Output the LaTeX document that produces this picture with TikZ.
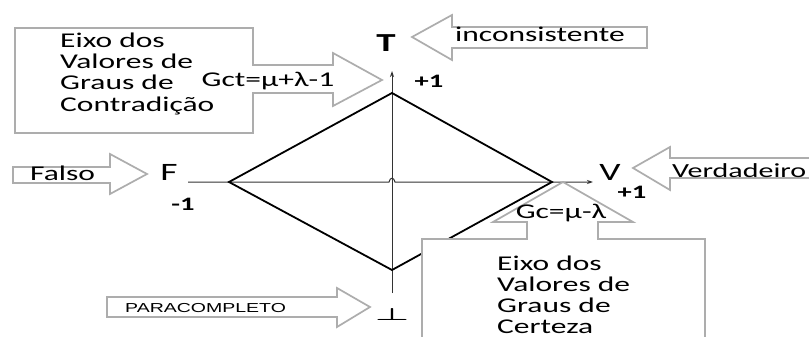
\documentclass[tikz,border=0pt]{standalone}
\usepackage{fontspec}
\setmainfont{Carlito}[FakeStretch=1.5]
\newfontfamily\arialx{Liberation Sans}[FakeStretch=1.5]
\usetikzlibrary{arrows.meta}
\definecolor{outl}{gray}{0.68}
\tikzset{
  callout/.style={draw=outl, line width=1.7pt, fill=white, line join=miter},
  txt/.style={inner sep=0pt, font=\fontsize{21}{21}\selectfont},
  pole/.style={inner sep=0pt, font=\fontsize{25}{25}\selectfont},
  num/.style={inner sep=0pt, font=\fontsize{19}{19}\selectfont\bfseries},
  dia/.style={line width=1.8pt, black, line join=miter},
  axis/.style={line width=1pt, black!80, -{Stealth[length=6pt,width=4pt]}},
}
\begin{document}
\begin{tikzpicture}[x=1pt,y=-1pt]
\useasboundingbox (0,0) rectangle (809,337);
\clip (0,0) rectangle (809,337);
\fill[white] (0,0) rectangle (809,337);

% diamond vertices and axis ends
\coordinate (top) at (392,93);
\coordinate (right) at (552,182);
\coordinate (bot) at (392,270);
\coordinate (left) at (229,182);
\coordinate (vaxS) at (392,293);
\coordinate (vaxE) at (392,71);
\coordinate (haxS) at (188,182);
\coordinate (haxE) at (593,182);
\coordinate (hopA) at (389,182);
\coordinate (hopB) at (395,182);

% axes
\draw[axis] (vaxS) -- (vaxE);
\draw[axis] (haxS) -- (hopA) .. controls (390,177) and (394,177) .. (hopB) -- (haxE);

% diamond
\draw[dia] (top) -- (right) -- (bot) -- (left) -- cycle;

% top-left callout (contradiction axis)
\draw[callout] (15,28) -- (253,28) -- (253,65) -- (333,65) -- (333,53) -- (382,80)
  -- (333,106) -- (333,93) -- (253,93) -- (253,133) -- (15,133) -- cycle;
\foreach \t [count=\i] in {Eixo dos, Valores de, Graus de, Contradição}
  \node[txt, anchor=base west] (tl\i) at (60,{48+21*(\i-1)}) {\t};
\node[txt, anchor=base] (gct) at (268,87) {Gct=μ+λ-1};

% inconsistente callout
\draw[callout] (412,37) -- (452,15) -- (452,27) -- (647,27) -- (647,48) -- (452,48) -- (452,60) -- cycle;
\node[txt, anchor=base west] (inc) at (455,42) {inconsistente};

% Falso callout
\draw[callout] (13,167) -- (110,167) -- (110,154) -- (147,174) -- (110,194) -- (110,183) -- (13,183) -- cycle;
\node[txt, anchor=base west] (fal) at (30,180) {Falso};

% Verdadeiro callout
\draw[callout] (633,168) -- (670,147) -- (670,158) -- (830,158) -- (830,178) -- (670,178) -- (670,190) -- cycle;
\node[inner sep=0pt, anchor=base west, font=\fontsize{20}{20}\selectfont] (ver) at (672,177) {Verdadeiro};

% PARACOMPLETO callout
\draw[callout] (107,297) -- (337,297) -- (337,288) -- (370,307) -- (337,327) -- (337,317) -- (107,317) -- cycle;
\node[inner sep=0pt, anchor=base west, font=\fontsize{13}{13}\selectfont\arialx] (para) at (125,312) {PARACOMPLETO};

% bottom callout (certainty axis)
\draw[callout] (422,239) -- (527,239) -- (527,222) -- (493,222) -- (563,182) -- (633,222)
  -- (598,222) -- (598,239) -- (705,239) -- (705,345) -- (422,345) -- cycle;
\node[txt, anchor=base] (gc) at (561,218) {Gc=μ-λ};
\foreach \t [count=\i] in {Eixo dos, Valores de, Graus de, Certeza}
  \node[txt, anchor=base west] (br\i) at (497,{270+21*(\i-1)}) {\t};

% pole labels
\node[inner sep=0pt, anchor=base, font=\fontsize{26}{26}\selectfont\bfseries] (T) at (386,52) {T};
\node[pole, anchor=base] (F) at (169,180) {F};
\node[pole, anchor=base] (V) at (610,180) {V};
\node[num, anchor=base] (p1t) at (429,88) {+1};
\node[num, anchor=base] (m1) at (183,210) {-1};
\node[num, anchor=base] (p1r) at (632,198) {+1};
\node[inner sep=0pt, anchor=base, font=\fontsize{19}{19}\selectfont] (bottom) at (392,320) {\scalebox{2.2}[1]{\boldmath$\perp$}};
\end{tikzpicture}
\end{document}
